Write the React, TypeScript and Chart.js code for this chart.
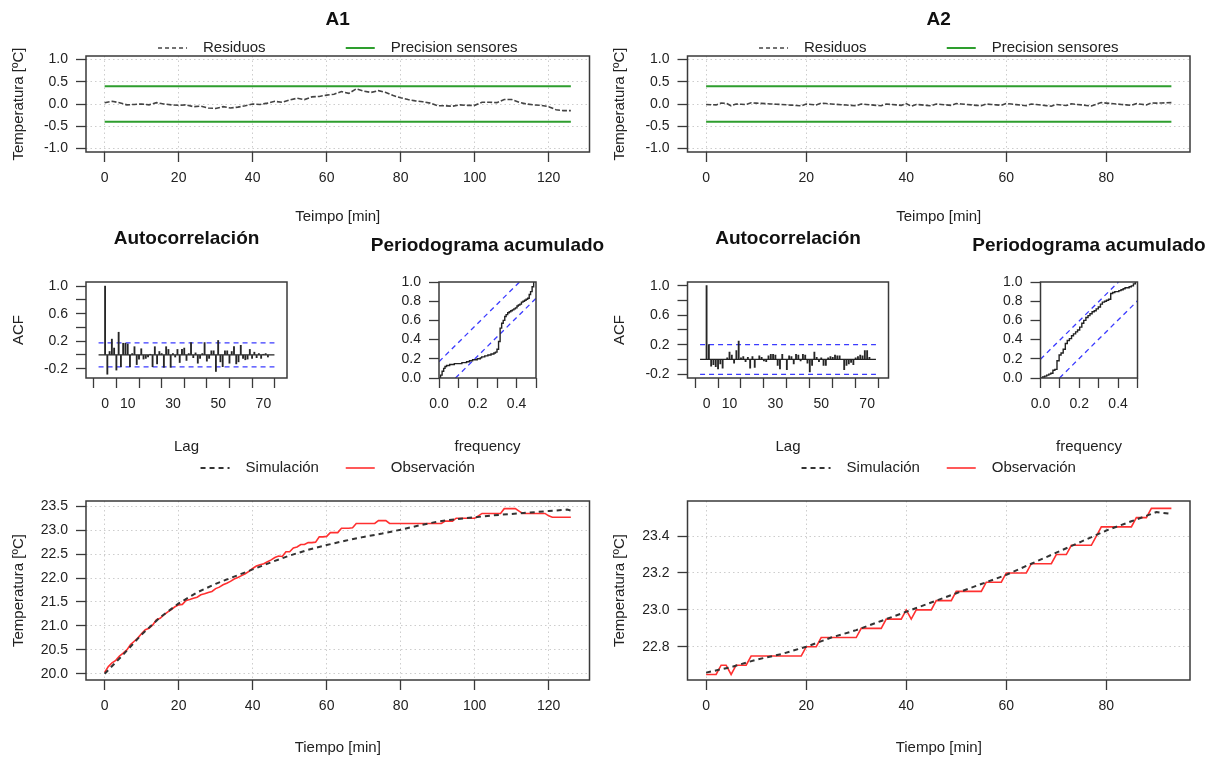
import React, { useEffect, useRef } from "react";
import { Chart, registerables } from "chart.js";

Chart.register(...registerables);

const FONT = '"Liberation Sans", Arial, Helvetica, sans-serif';
Chart.defaults.font.family = FONT;
Chart.defaults.font.size = 14;
Chart.defaults.color = "#222";

// ---------------- DATA ----------------
const PRECISION = 0.4;

// A1 residuals (every 2 min)
const A1_RES_TIME = [0,2,4,6,8,10,12,14,16,18,20,22,24,26,28,30,32,34,36,38,40,42,44,46,48,50,52,54,56,58,60,62,64,66,68,70,72,74,76,78,80,82,84,86,88,90,92,94,96,98,100,102,104,106,108,110,112,114,116,118,120,122,124,126];
const A1_RESIDUALS = [0.03,0.06,0.03,-0.02,-0.01,0.0,-0.02,0.03,0.0,-0.02,-0.03,-0.02,-0.06,-0.05,-0.09,-0.10,-0.06,-0.09,-0.07,-0.04,0.0,-0.01,0.02,0.06,0.04,0.09,0.13,0.10,0.16,0.17,0.20,0.22,0.28,0.24,0.34,0.29,0.26,0.30,0.26,0.19,0.14,0.10,0.07,0.05,0.02,-0.04,-0.04,-0.05,-0.02,-0.03,-0.03,0.04,0.04,0.03,0.10,0.10,0.04,0.0,-0.02,-0.03,-0.06,-0.13,-0.15,-0.15];

// A1 observation (every minute)
const A1_TIME = [0,1,2,3,4,5,6,7,8,9,10,11,12,13,14,15,16,17,18,19,20,21,22,23,24,25,26,27,28,29,30,31,32,33,34,35,36,37,38,39,40,41,42,43,44,45,46,47,48,49,50,51,52,53,54,55,56,57,58,59,60,61,62,63,64,65,66,67,68,69,70,71,72,73,74,75,76,77,78,79,80,81,82,83,84,85,86,87,88,89,90,91,92,93,94,95,96,97,98,99,100,101,102,103,104,105,106,107,108,109,110,111,112,113,114,115,116,117,118,119,120,121,122,123,124,125,126];
const A1_OBS = [20.03,20.15,20.23,20.28,20.37,20.43,20.50,20.61,20.68,20.75,
  20.84,20.92,20.95,21.02,21.13,21.16,21.23,21.29,21.34,21.40,
  21.44,21.45,21.53,21.55,21.58,21.60,21.65,21.67,21.70,21.72,
  21.78,21.81,21.86,21.89,21.93,21.98,22.01,22.05,22.09,22.14,
  22.20,22.25,22.28,22.30,22.34,22.38,22.43,22.46,22.45,22.55,
  22.55,22.63,22.65,22.70,22.70,22.74,22.74,22.75,22.86,22.86,
  22.87,22.95,22.95,22.95,23.04,23.04,23.04,23.05,23.14,23.14,
  23.14,23.14,23.14,23.14,23.20,23.20,23.20,23.14,23.14,23.14,
  23.14,23.14,23.14,23.14,23.14,23.14,23.14,23.14,23.14,23.14,
  23.14,23.14,23.19,23.19,23.19,23.25,23.25,23.25,23.25,23.25,
  23.25,23.30,23.35,23.35,23.35,23.35,23.35,23.35,23.45,23.45,
  23.45,23.45,23.40,23.35,23.35,23.35,23.35,23.35,23.35,23.35,
  23.30,23.27,23.27,23.27,23.27,23.27,23.27];

// A1 simulation
const A1_SIM_TIME = [0,5,10,15,20,25,30,35,40,45,50,55,60,65,70,75,80,85,90,95,100,105,110,115,120,125,126];
const A1_SIM = [20.00,20.40,20.82,21.18,21.47,21.70,21.88,22.03,22.18,22.33,22.47,22.59,22.69,22.78,22.86,22.93,23.01,23.10,23.18,23.23,23.27,23.31,23.34,23.37,23.40,23.43,23.41];

// A2 observation / residuals (every minute)
const A2_TIME = [0,1,2,3,4,5,6,7,8,9,10,11,12,13,14,15,16,17,18,19,20,21,22,23,24,25,26,27,28,29,30,31,32,33,34,35,36,37,38,39,40,41,42,43,44,45,46,47,48,49,50,51,52,53,54,55,56,57,58,59,60,61,62,63,64,65,66,67,68,69,70,71,72,73,74,75,76,77,78,79,80,81,82,83,84,85,86,87,88,89,90,91,92,93];
const A2_OBS = [22.65,22.65,22.65,22.70,22.70,22.65,22.70,22.70,22.70,22.75,
  22.75,22.75,22.75,22.75,22.75,22.75,22.75,22.75,22.75,22.75,
  22.80,22.80,22.80,22.85,22.85,22.85,22.85,22.85,22.85,22.85,
  22.85,22.90,22.90,22.90,22.90,22.90,22.95,22.95,22.95,22.95,
  23.00,22.95,23.00,23.00,23.00,23.00,23.05,23.05,23.05,23.05,
  23.10,23.10,23.10,23.10,23.10,23.10,23.15,23.15,23.15,23.15,
  23.20,23.20,23.20,23.20,23.20,23.25,23.25,23.25,23.25,23.25,
  23.30,23.30,23.30,23.35,23.35,23.35,23.35,23.35,23.40,23.45,
  23.45,23.45,23.45,23.45,23.45,23.45,23.50,23.50,23.50,23.55,
  23.55,23.55,23.55,23.55];
const A2_RESIDUALS = [-0.010,-0.016,-0.020,0.020,0.016,-0.040,0.000,-0.006,-0.014,0.028,
  0.020,0.014,0.008,0.000,-0.004,-0.010,-0.018,-0.026,-0.034,-0.042,
  0.000,-0.010,-0.020,0.020,0.010,0.000,-0.008,-0.016,-0.024,-0.032,
  -0.040,0.000,-0.010,-0.020,-0.030,-0.040,0.000,-0.010,-0.020,-0.030,
  0.010,-0.050,-0.010,-0.020,-0.030,-0.040,0.000,-0.010,-0.020,-0.030,
  0.010,0.000,-0.010,-0.020,-0.030,-0.040,0.000,-0.010,-0.020,-0.030,
  0.010,0.000,-0.014,-0.026,-0.038,0.000,-0.012,-0.024,-0.036,-0.048,
  -0.010,-0.022,-0.034,0.004,-0.008,-0.020,-0.032,-0.044,-0.006,0.032,
  0.020,0.010,0.000,-0.010,-0.020,-0.030,0.007,-0.007,-0.020,0.025,
  0.020,0.023,0.027,0.030];
const A2_SIM_TIME = [0,5,10,15,20,25,30,35,40,45,50,55,60,65,70,75,80,85,90,93];
const A2_SIM = [22.66,22.69,22.73,22.76,22.80,22.85,22.89,22.94,22.99,23.04,23.09,23.14,23.19,23.25,23.31,23.37,23.43,23.48,23.53,23.52];

// Autocorrelation
const A1_LAGS = [0,1,2,3,4,5,6,7,8,9,10,11,12,13,14,15,16,17,18,19,20,21,22,23,24,25,26,27,28,29,30,31,32,33,34,35,36,37,38,39,40,41,42,43,44,45,46,47,48,49,50,51,52,53,54,55,56,57,58,59,60,61,62,63,64,65,66,67,68,69,70,71,72];
const A1_ACF = [1.00,-0.28,0.05,0.23,0.10,-0.22,0.33,-0.17,0.17,0.17,
  0.16,-0.17,0.02,0.12,-0.14,-0.06,0.09,-0.06,-0.05,-0.03,
  0.01,-0.17,0.12,-0.13,0.05,0.02,-0.18,0.12,0.08,-0.18,
  0.02,-0.03,0.08,-0.11,0.08,0.10,-0.08,0.02,0.18,-0.04,
  0.03,-0.12,-0.05,0.02,0.18,-0.09,-0.05,0.06,0.06,-0.24,
  0.21,-0.10,-0.17,0.06,0.06,-0.12,0.05,0.12,-0.13,-0.10,
  0.14,-0.05,-0.07,-0.06,0.08,-0.05,0.04,-0.04,0.02,-0.05,
  0.01,0.02,-0.03];
const A1_ACF_CI = 0.174;
const A2_LAGS = [0,1,2,3,4,5,6,7,8,9,10,11,12,13,14,15,16,17,18,19,20,21,22,23,24,25,26,27,28,29,30,31,32,33,34,35,36,37,38,39,40,41,42,43,44,45,46,47,48,49,50,51,52,53,54,55,56,57,58,59,60,61,62,63,64,65,66,67,68,69,70,71];
const A2_ACF = [1.00,0.20,-0.09,-0.07,-0.10,-0.13,-0.06,-0.12,0.00,0.02,
  0.10,0.06,-0.05,0.12,0.25,0.02,0.04,-0.03,0.03,-0.12,
  0.04,-0.11,0.00,0.05,0.03,-0.02,-0.03,0.05,0.07,0.07,
  0.06,-0.08,-0.13,0.07,0.00,-0.14,0.05,0.04,-0.06,0.07,
  0.06,-0.02,0.07,0.06,-0.05,-0.17,-0.08,0.10,0.03,-0.03,
  0.02,-0.08,-0.08,0.02,0.04,0.03,0.06,0.05,0.05,0.00,
  -0.14,-0.08,-0.06,-0.04,-0.07,0.02,0.04,0.06,0.05,0.12,
  0.12,0.03];
const A2_ACF_CI = 0.202;

// Cumulative periodogram
const A1_FREQ = [0.000,0.008,0.016,0.024,0.031,0.039,0.047,0.055,0.063,0.071,0.079,0.087,0.094,0.102,0.110,0.118,0.126,0.134,0.142,0.150,0.157,0.165,0.173,0.181,0.189,0.197,0.205,0.213,0.220,0.228,0.236,0.244,0.252,0.260,0.268,0.276,0.283,0.291,0.299,0.307,0.315,0.323,0.331,0.339,0.346,0.354,0.362,0.370,0.378,0.386,0.394,0.402,0.409,0.417,0.425,0.433,0.441,0.449,0.457,0.465,0.472,0.480,0.488];
const A1_CPGRAM = [0.00,0.03,0.07,0.10,0.12,0.13,0.13,0.14,0.14,0.14,0.15,0.15,0.15,0.15,0.15,0.16,0.16,0.16,0.17,0.17,0.18,0.18,0.19,0.19,0.19,0.20,0.20,0.21,0.22,0.22,0.23,0.23,0.24,0.24,0.25,0.25,0.26,0.27,0.30,0.38,0.52,0.57,0.60,0.64,0.66,0.68,0.69,0.70,0.71,0.72,0.73,0.75,0.76,0.77,0.79,0.80,0.81,0.82,0.83,0.87,0.90,0.95,1.00];
const A1_CP_UPPER_X = [0, 0.415];
const A1_CP_UPPER_Y = [0.17, 1];
const A1_CP_LOWER_X = [0.085, 0.5];
const A1_CP_LOWER_Y = [0, 0.83];
const A2_FREQ = [0.000,0.011,0.021,0.032,0.043,0.053,0.064,0.074,0.085,0.096,0.106,0.117,0.128,0.138,0.149,0.160,0.170,0.181,0.191,0.202,0.213,0.223,0.234,0.245,0.255,0.266,0.277,0.287,0.298,0.309,0.319,0.330,0.340,0.351,0.362,0.372,0.383,0.394,0.404,0.415,0.426,0.436,0.447,0.457,0.468,0.479,0.489];
const A2_CPGRAM = [0.00,0.01,0.02,0.03,0.04,0.05,0.08,0.09,0.18,0.24,0.26,0.30,0.36,0.39,0.41,0.44,0.46,0.48,0.50,0.53,0.57,0.60,0.63,0.65,0.67,0.69,0.70,0.72,0.74,0.77,0.79,0.80,0.81,0.82,0.88,0.89,0.90,0.90,0.91,0.92,0.93,0.94,0.94,0.95,0.96,0.98,1.00];
const A2_CP_UPPER_X = [0, 0.402];
const A2_CP_UPPER_Y = [0.196, 1];
const A2_CP_LOWER_X = [0.098, 0.5];
const A2_CP_LOWER_Y = [0, 0.804];

// Ticks
const A1_X_TICKS = [0, 20, 40, 60, 80, 100, 120];
const A2_X_TICKS = [0, 20, 40, 60, 80];
const RES_Y_TICKS = [-1, -0.5, 0, 0.5, 1];
const ACF_X_TICKS = [0, 10, 20, 30, 40, 50, 60, 70];
const ACF_X_LABELS = [0, 10, 30, 50, 70];
const ACF_Y_TICKS = [-0.2, 0, 0.2, 0.4, 0.6, 0.8, 1.0];
const ACF_Y_LABELS = [-0.2, 0.2, 0.6, 1.0];
const CP_X_TICKS = [0, 0.1, 0.2, 0.3, 0.4, 0.5];
const CP_X_LABELS = [0, 0.2, 0.4];
const CP_Y_TICKS = [0, 0.2, 0.4, 0.6, 0.8, 1.0];
const A1_T_Y_TICKS = [20.0, 20.5, 21.0, 21.5, 22.0, 22.5, 23.0, 23.5];
const A2_T_Y_TICKS = [22.8, 23.0, 23.2, 23.4];

// ---------------- STYLE ----------------
const GREEN = "#2e9e2e";
const RED = "#ff3030";
const SIM_COLOR = "#333333";
const RES_COLOR = "#444444";
const BLUE = "#3b3bff";
const GRID_COLOR = "#cdcdcd";
const BOX_COLOR = "#3a3a3a";

type Frame = { x: number; y: number; w: number; h: number };
type Area = { l: number; t: number; r: number; b: number };
type LegendItem = { label: string; color: string; dash: number[]; width: number };

const hasValue = (list: number[], v: number) => list.some((u) => Math.abs(u - v) < 1e-9);

function makeAxis(o: {
  min: number; max: number; ticks: number[]; labels?: number[]; decimals: number;
  grid: boolean; title?: string; titlePad?: any; fit: (s: any) => void;
}) {
  return {
    type: "linear",
    min: o.min,
    max: o.max,
    afterBuildTicks: (s: any) => { s.ticks = o.ticks.map((v) => ({ value: v })); },
    afterFit: o.fit,
    ticks: {
      autoSkip: false, maxRotation: 0, minRotation: 0, padding: 8, color: "#222",
      font: { size: 14 },
      callback: (v: any) => {
        const n = Number(v);
        if (o.labels && !hasValue(o.labels, n)) return "";
        return n.toFixed(o.decimals);
      },
    },
    grid: {
      drawOnChartArea: o.grid, color: GRID_COLOR, lineWidth: 1, drawTicks: true,
      tickLength: 10, tickColor: BOX_COLOR, tickWidth: 1.3,
    },
    border: { display: false, dash: [1.5, 3] },
    title: o.title
      ? { display: true, text: o.title, color: "#222", font: { size: 15 }, padding: o.titlePad }
      : { display: false },
  };
}

function line(xs: number[], ys: number[], color: string, width: number, dash: number[], extra: any = {}) {
  return {
    type: "line",
    data: xs.map((x, i) => ({ x, y: ys[i] })),
    borderColor: color,
    backgroundColor: color,
    borderWidth: width,
    borderDash: dash,
    pointRadius: 0,
    pointHoverRadius: 0,
    fill: false,
    tension: 0,
    ...extra,
  };
}

function decor(frame: Frame, title?: { text: string; y: number }, legend?: { items: LegendItem[]; y: number }) {
  return {
    id: "decor",
    afterDatasetsDraw(chart: any) {
      const { ctx, chartArea: a } = chart;
      ctx.save();
      ctx.setLineDash([]);
      ctx.strokeStyle = BOX_COLOR;
      ctx.lineWidth = 1.5;
      ctx.strokeRect(a.left, a.top, a.right - a.left, a.bottom - a.top);
      const cx = (a.left + a.right) / 2;
      if (title) {
        ctx.font = `bold 19px ${FONT}`;
        ctx.fillStyle = "#111";
        ctx.textAlign = "center";
        ctx.textBaseline = "middle";
        ctx.fillText(title.text, cx, title.y - frame.y);
      }
      if (legend) {
        ctx.font = `15px ${FONT}`;
        const maxW = Math.max(...legend.items.map((it) => ctx.measureText(it.label).width));
        const seg = 29, gap = 16, tail = 16;
        const colW = seg + gap + maxW + tail;
        const total = legend.items.length * colW - tail;
        const x0 = cx - total / 2;
        const y = legend.y - frame.y;
        legend.items.forEach((it, i) => {
          const x = x0 + i * colW;
          ctx.beginPath();
          ctx.setLineDash(it.dash);
          ctx.strokeStyle = it.color;
          ctx.lineWidth = it.width;
          ctx.moveTo(x, y);
          ctx.lineTo(x + seg, y);
          ctx.stroke();
          ctx.setLineDash([]);
          ctx.fillStyle = "#222";
          ctx.textAlign = "left";
          ctx.textBaseline = "middle";
          ctx.fillText(it.label, x + seg + gap, y);
        });
      }
      ctx.restore();
    },
  };
}

const COMMON = {
  responsive: false,
  animation: false,
  events: [],
  plugins: { legend: { display: false }, tooltip: { enabled: false }, title: { display: false } },
};

type Builder = (frame: Frame, fitX: (s: any) => void, fitY: (s: any) => void) => any;

function Panel({ frame, area, build }: { frame: Frame; area: Area; build: Builder }) {
  const ref = useRef<HTMLCanvasElement | null>(null);
  useEffect(() => {
    const fitX = (s: any) => { s.height = frame.y + frame.h - area.b; };
    const fitY = (s: any) => { s.width = area.l - frame.x; };
    const cfg = build(frame, fitX, fitY);
    cfg.options.layout = {
      padding: { left: 0, bottom: 0, top: area.t - frame.y, right: frame.x + frame.w - area.r },
    };
    const chart = new Chart(ref.current as HTMLCanvasElement, cfg);
    return () => chart.destroy();
  }, []);
  return (
    <canvas
      ref={ref}
      width={frame.w}
      height={frame.h}
      style={{ position: "absolute", left: frame.x, top: frame.y, width: frame.w, height: frame.h }}
    />
  );
}

// ---------------- BUILDERS ----------------
function residualPanel(title: string, times: number[], res: number[], obsTime: number[], xMin: number, xMax: number, xTicks: number[]): Builder {
  return (frame, fitX, fitY) => {
    const t0 = obsTime[0];
    const t1 = obsTime[obsTime.length - 1];
    return {
      type: "line",
      data: {
        datasets: [
          line(times, res, RES_COLOR, 1.6, [5, 2]),
          line([t0, t1], [PRECISION, PRECISION], GREEN, 2, []),
          line([t0, t1], [-PRECISION, -PRECISION], GREEN, 2, []),
        ],
      },
      options: {
        ...COMMON,
        scales: {
          x: makeAxis({ min: xMin, max: xMax, ticks: xTicks, decimals: 0, grid: true, title: "Teimpo [min]", titlePad: { top: 0, bottom: 2 }, fit: fitX }),
          y: makeAxis({ min: -1.08, max: 1.08, ticks: RES_Y_TICKS, decimals: 1, grid: true, title: "Temperatura [ºC]", titlePad: { top: 10, bottom: 0 }, fit: fitY }),
        },
      },
      plugins: [
        decor(frame, { text: title, y: 20 }, {
          y: 48,
          items: [
            { label: "Residuos", color: RES_COLOR, dash: [4, 3], width: 1.5 },
            { label: "Precision sensores", color: GREEN, dash: [], width: 2 },
          ],
        }),
      ],
    };
  };
}

function acfPanel(lags: number[], acf: number[], ci: number, xMin: number, xMax: number, yMin: number, yMax: number): Builder {
  return (frame, fitX, fitY) => ({
    type: "line",
    data: {
      datasets: [
        {
          type: "bar",
          data: lags.map((x, i) => ({ x, y: acf[i] })),
          backgroundColor: "#262626",
          borderWidth: 0,
          barThickness: 1.2,
        },
        line([xMin, xMax], [0, 0], "#222", 1.3, []),
        line([xMin, xMax], [ci, ci], BLUE, 1.3, [5, 4]),
        line([xMin, xMax], [-ci, -ci], BLUE, 1.3, [5, 4]),
      ],
    },
    options: {
      ...COMMON,
      scales: {
        x: makeAxis({ min: xMin, max: xMax, ticks: ACF_X_TICKS, labels: ACF_X_LABELS, decimals: 0, grid: false, title: "Lag", titlePad: { top: 0, bottom: 0 }, fit: fitX }),
        y: makeAxis({ min: yMin, max: yMax, ticks: ACF_Y_TICKS, labels: ACF_Y_LABELS, decimals: 1, grid: false, title: "ACF", titlePad: { top: 10, bottom: 0 }, fit: fitY }),
      },
    },
    plugins: [decor(frame, { text: "Autocorrelación", y: 239 })],
  });
}

function cpPanel(freq: number[], cp: number[], ux: number[], uy: number[], lx: number[], ly: number[]): Builder {
  return (frame, fitX, fitY) => ({
    type: "line",
    data: {
      datasets: [
        line(freq, cp, "#222", 1.4, [], { stepped: true }),
        line(ux, uy, BLUE, 1.3, [5, 4]),
        line(lx, ly, BLUE, 1.3, [5, 4]),
      ],
    },
    options: {
      ...COMMON,
      scales: {
        x: makeAxis({ min: 0, max: 0.5, ticks: CP_X_TICKS, labels: CP_X_LABELS, decimals: 1, grid: false, title: "frequency", titlePad: { top: 0, bottom: 0 }, fit: fitX }),
        y: makeAxis({ min: 0, max: 1, ticks: CP_Y_TICKS, decimals: 1, grid: false, fit: fitY }),
      },
    },
    plugins: [decor(frame, { text: "Periodograma acumulado", y: 245.5 })],
  });
}

function tempPanel(obsT: number[], obs: number[], simT: number[], sim: number[], xMin: number, xMax: number, xTicks: number[], yMin: number, yMax: number, yTicks: number[]): Builder {
  return (frame, fitX, fitY) => ({
    type: "line",
    data: {
      datasets: [
        line(simT, sim, SIM_COLOR, 2, [5, 4]),
        line(obsT, obs, RED, 1.6, []),
      ],
    },
    options: {
      ...COMMON,
      scales: {
        x: makeAxis({ min: xMin, max: xMax, ticks: xTicks, decimals: 0, grid: true, title: "Tiempo [min]", titlePad: { top: 0, bottom: 1 }, fit: fitX }),
        y: makeAxis({ min: yMin, max: yMax, ticks: yTicks, decimals: 1, grid: true, title: "Temperatura [ºC]", titlePad: { top: 10, bottom: 0 }, fit: fitY }),
      },
    },
    plugins: [
      decor(frame, undefined, {
        y: 468,
        items: [
          { label: "Simulación", color: SIM_COLOR, dash: [5, 4], width: 2 },
          { label: "Observación", color: RED, dash: [], width: 1.6 },
        ],
      }),
    ],
  });
}

const PANELS: { key: string; frame: Frame; area: Area; build: Builder }[] = [
  { key: "resA1", frame: { x: 0, y: 0, w: 601, h: 228 }, area: { l: 86, t: 56, r: 589.5, b: 152 },
    build: residualPanel("A1", A1_RES_TIME, A1_RESIDUALS, A1_TIME, -5.04, 131.04, A1_X_TICKS) },
  { key: "resA2", frame: { x: 601, y: 0, w: 609, h: 228 }, area: { l: 687.5, t: 56, r: 1190, b: 152 },
    build: residualPanel("A2", A2_TIME, A2_RESIDUALS, A2_TIME, -3.72, 96.72, A2_X_TICKS) },
  { key: "acfA1", frame: { x: 0, y: 228, w: 330, h: 228 }, area: { l: 86, t: 282, r: 287, b: 378 },
    build: acfPanel(A1_LAGS, A1_ACF, A1_ACF_CI, -2.88, 74.88, -0.335, 1.06) },
  { key: "cpA1", frame: { x: 330, y: 228, w: 285, h: 228 }, area: { l: 439, t: 282, r: 536, b: 378 },
    build: cpPanel(A1_FREQ, A1_CPGRAM, A1_CP_UPPER_X, A1_CP_UPPER_Y, A1_CP_LOWER_X, A1_CP_LOWER_Y) },
  { key: "acfA2", frame: { x: 601, y: 228, w: 330, h: 228 }, area: { l: 687.5, t: 282, r: 888.5, b: 378 },
    build: acfPanel(A2_LAGS, A2_ACF, A2_ACF_CI, -2.84, 73.84, -0.252, 1.05) },
  { key: "cpA2", frame: { x: 931, y: 228, w: 279, h: 228 }, area: { l: 1040.5, t: 282, r: 1137.5, b: 378 },
    build: cpPanel(A2_FREQ, A2_CPGRAM, A2_CP_UPPER_X, A2_CP_UPPER_Y, A2_CP_LOWER_X, A2_CP_LOWER_Y) },
  { key: "tA1", frame: { x: 0, y: 456, w: 601, h: 302 }, area: { l: 86, t: 501, r: 589.5, b: 680 },
    build: tempPanel(A1_TIME, A1_OBS, A1_SIM_TIME, A1_SIM, -5.04, 131.04, A1_X_TICKS, 19.87, 23.61, A1_T_Y_TICKS) },
  { key: "tA2", frame: { x: 601, y: 456, w: 609, h: 302 }, area: { l: 687.5, t: 501, r: 1190, b: 680 },
    build: tempPanel(A2_TIME, A2_OBS, A2_SIM_TIME, A2_SIM, -3.72, 96.72, A2_X_TICKS, 22.62, 23.59, A2_T_Y_TICKS) },
];

export default function App() {
  return (
    <div style={{ position: "absolute", left: 0, top: 0, width: 1210, height: 758, background: "#fff", overflow: "hidden" }}>
      {PANELS.map((p) => (
        <Panel key={p.key} frame={p.frame} area={p.area} build={p.build} />
      ))}
    </div>
  );
}
